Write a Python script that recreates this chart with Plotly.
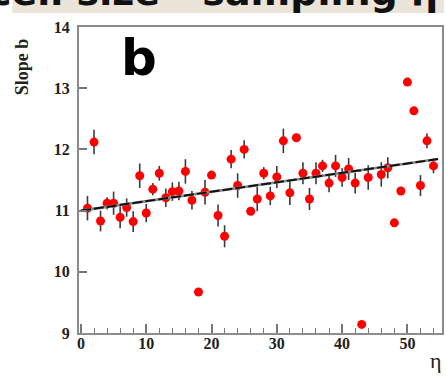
import plotly.graph_objects as go

# Slope b versus pseudorapidity bin eta
eta = [1, 2, 3, 4, 5, 6, 7, 8, 9, 10,
       11, 12, 13, 14, 15, 16, 17, 18, 19, 20,
       21, 22, 23, 24, 25, 26, 27, 28, 29, 30,
       31, 32, 33, 34, 35, 36, 37, 38, 39, 40,
       41, 42, 43, 44, 46, 47, 48, 49, 50, 51,
       52, 53, 54]
slope_b = [11.04, 12.12, 10.83, 11.12, 11.12, 10.89, 11.05, 10.82, 11.57, 10.96,
           11.35, 11.61, 11.21, 11.31, 11.32, 11.64, 11.17, 9.67, 11.30, 11.58,
           10.92, 10.58, 11.84, 11.41, 12.00, 10.99, 11.19, 11.61, 11.24, 11.55,
           12.14, 11.29, 12.19, 11.61, 11.19, 11.61, 11.73, 11.45, 11.73, 11.54,
           11.68, 11.45, 9.14, 11.54, 11.59, 11.70, 10.80, 11.32, 13.10, 12.63,
           11.41, 12.14, 11.73]
slope_err = [0.20, 0.20, 0.17, 0.10, 0.19, 0.18, 0.15, 0.17, 0.20, 0.15,
             0.10, 0.12, 0.15, 0.15, 0.15, 0.20, 0.15, 0.04, 0.20, 0.04,
             0.18, 0.18, 0.15, 0.20, 0.15, 0.04, 0.20, 0.10, 0.15, 0.18,
             0.20, 0.20, 0.03, 0.18, 0.18, 0.18, 0.10, 0.15, 0.18, 0.15,
             0.18, 0.17, 0.03, 0.20, 0.20, 0.17, 0.03, 0.05, 0.03, 0.03,
             0.17, 0.12, 0.12]

# Linear fit: b = intercept + slope * eta
fit_intercept = 11.0
fit_slope = 0.0154
fit_eta = [0.0, 54.7]
fit_b = [fit_intercept + fit_slope * e for e in fit_eta]

y_ticks = [9, 10, 11, 12, 13, 14]
x_ticks = [0, 10, 20, 30, 40, 50]

W, H = 446, 381
ML, MR, MT, MB = 79, 2, 27, 48


def px_to_paper_x(px):
    return (px - ML) / (W - ML - MR)


def px_to_paper_y(py):
    return (H - MB - py) / (H - MT - MB)


fig = go.Figure()

fig.add_trace(go.Scatter(
    x=eta, y=slope_b, mode="markers",
    marker=dict(color="#ff0000", size=9, line=dict(width=0)),
    error_y=dict(type="data", array=slope_err, visible=True,
                 color="#3a3a3a", thickness=1.6, width=0),
    showlegend=False,
))

# fit line: grey underlay with a black dashed stroke on top
fig.add_trace(go.Scatter(
    x=fit_eta, y=fit_b, mode="lines",
    line=dict(color="#8a8a8a", width=2.6),
    showlegend=False, hoverinfo="skip",
))
fig.add_trace(go.Scatter(
    x=fit_eta, y=fit_b, mode="lines",
    line=dict(color="#111111", width=2, dash="10px,3px"),
    showlegend=False, hoverinfo="skip",
))

tick_font = dict(family="Liberation Serif", size=16, color="#222222", weight="bold")

fig.update_xaxes(
    range=[-0.3, 55.3], tickvals=x_ticks, ticks="inside", ticklen=9,
    tickwidth=1.5, tickcolor="#777777", ticklabelstandoff=-5,
    minor=dict(dtick=2, ticks="inside", ticklen=5, tickwidth=1.2, tickcolor="#777777"),
    showline=True, linecolor="#8c8c8c", linewidth=2, mirror=True,
    showgrid=False, zeroline=False, tickfont=tick_font,
)
fig.update_yaxes(
    range=[9, 14], tickvals=y_ticks, ticks="inside", ticklen=8,
    tickwidth=1.5, tickcolor="#777777", ticklabelstandoff=4,
    showline=True, linecolor="#8c8c8c", linewidth=2, mirror=True,
    showgrid=False, zeroline=False, tickfont=tick_font,
)

# banner strip along the top edge
fig.add_shape(type="rect", xref="paper", yref="paper",
              x0=px_to_paper_x(12), x1=px_to_paper_x(W),
              y0=px_to_paper_y(13), y1=px_to_paper_y(0),
              fillcolor="#ebe4d9", line=dict(width=0), layer="below")

fig.add_annotation(
    text="cell size - sampling η", xref="paper", yref="paper",
    x=px_to_paper_x(214), y=px_to_paper_y(5), xanchor="center", yanchor="middle",
    yshift=13,
    showarrow=False, font=dict(family="DejaVu Sans", size=38, color="#111111", weight="bold"),
)

fig.add_annotation(
    text="b", xref="paper", yref="paper",
    x=px_to_paper_x(139), y=px_to_paper_y(58), xanchor="center", yanchor="middle",
    showarrow=False, font=dict(family="DejaVu Sans", size=50, color="#000000", weight="bold"),
)

fig.add_annotation(
    text="Slope b", xref="paper", yref="paper",
    x=px_to_paper_x(22), y=px_to_paper_y(67), xanchor="center", yanchor="middle",
    textangle=-90, showarrow=False,
    font=dict(family="Liberation Serif", size=18, color="#222222", weight="bold"),
)

fig.add_annotation(
    text="η", xref="paper", yref="paper",
    x=px_to_paper_x(438), y=px_to_paper_y(360), xanchor="center", yanchor="middle",
    showarrow=False,
    font=dict(family="Liberation Serif", size=22, color="#222222"),
)

fig.update_layout(
    width=W, height=H,
    margin=dict(l=ML, r=MR, t=MT, b=MB),
    paper_bgcolor="white", plot_bgcolor="white",
    showlegend=False,
)

fig.write_html("out.html")
